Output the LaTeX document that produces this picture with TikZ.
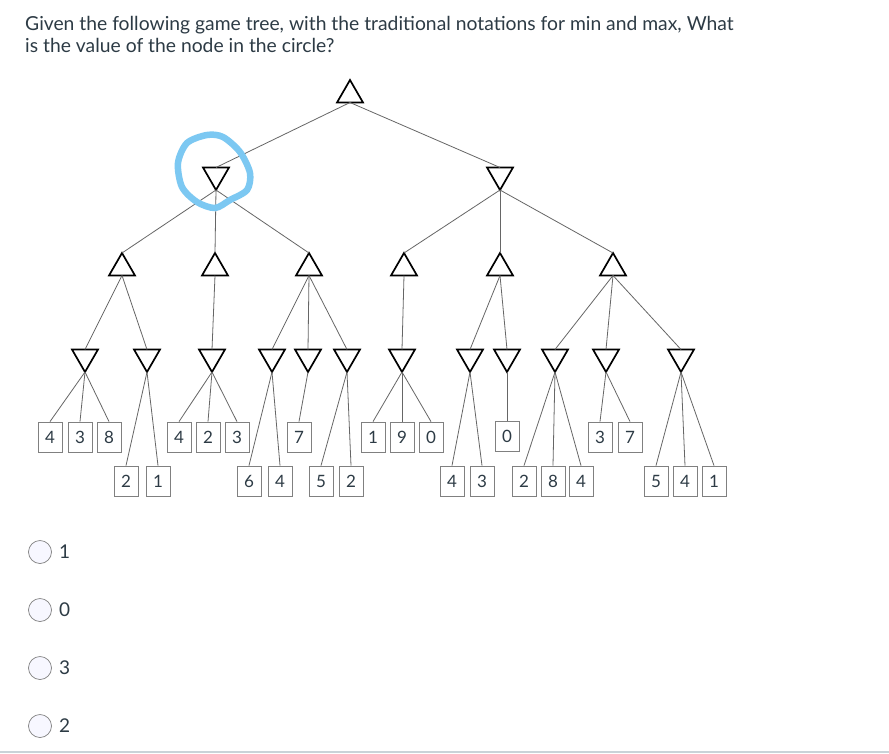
\documentclass[tikz,border=0pt]{standalone}
\usepackage{fontspec}
\setmainfont{Lato}
\usetikzlibrary{shapes.geometric, positioning}

\definecolor{qtext}{HTML}{2D3B45}
\definecolor{ring}{HTML}{7CC8F2}
\definecolor{rule}{HTML}{C9D3D8}

\begin{document}
\begin{tikzpicture}[x=1pt, y=-1pt,
    maxnode/.style={regular polygon, regular polygon sides=3, draw=black, line width=1.7pt, minimum size=30pt, inner sep=0pt, outer sep=0pt},
    minnode/.style={maxnode, shape border rotate=180},
    leaf/.style={draw=black!50, line width=0.8pt, minimum width=24pt, minimum height=30pt, inner sep=0pt, text=qtext, font=\fontsize{17}{17}\selectfont},
    branch/.style={draw=black!60, line width=0.8pt},
    radio/.style={circle, draw=black!50, fill=blue!3, line width=0.7pt, minimum size=23pt, inner sep=0pt},
    answer/.style={text=qtext, font=\fontsize{19}{19}\selectfont, inner sep=0pt}]
    \fill[white] (0,0) rectangle (889,753);
    \useasboundingbox (0,0) rectangle (889,753);

    % question
    \node[anchor=north west, align=left, text=qtext, inner sep=0pt, font=\fontsize{19.3}{22.5}\selectfont] (question) at (25,16)
      {Given the following game tree, with the traditional notations for min and max, What\\
       is the value of the node in the circle?};

    % max / min levels
    \node[maxnode] (root) at (350,95) {};
    \node[minnode] (n1) at (216,175) {};
    \node[minnode] (n2) at (500,175) {};

    \node[maxnode] (n11) at (122,268) {};
    \node[maxnode] (n12) at (215,268) {};
    \node[maxnode] (n13) at (309,268) {};
    \node[maxnode] (n21) at (404,268) {};
    \node[maxnode] (n22) at (500,268) {};
    \node[maxnode] (n23) at (613,268) {};

    \node[minnode] (m1) at (85,357) {};
    \node[minnode] (m2) at (147,357) {};
    \node[minnode] (m3) at (212,357) {};
    \node[minnode] (m4) at (272,357) {};
    \node[minnode] (m5) at (308,357) {};
    \node[minnode] (m6) at (347,357) {};
    \node[minnode] (m7) at (402,357) {};
    \node[minnode] (m8) at (470,357) {};
    \node[minnode] (m9) at (507,357) {};
    \node[minnode] (m10) at (555,357) {};
    \node[minnode] (m11) at (606,357) {};
    \node[minnode] (m12) at (681,357) {};

    % leaves, upper row
    \node[leaf] (l1) at (50,437) {4};
    \node[leaf] (l2) at (80,437) {3};
    \node[leaf] (l3) at (109,437) {8};
    \node[leaf] (l6) at (179,437) {4};
    \node[leaf] (l7) at (208,437) {2};
    \node[leaf] (l8) at (237,437) {3};
    \node[leaf] (l11) at (299,437) {7};
    \node[leaf] (l14) at (373,437) {1};
    \node[leaf] (l15) at (402,437) {9};
    \node[leaf] (l16) at (431,437) {0};
    \node[leaf] (l19) at (507,436) {0};
    \node[leaf] (l23) at (600,437) {3};
    \node[leaf] (l24) at (630,437) {7};

    % leaves, lower row
    \node[leaf] (l4) at (126,481) {2};
    \node[leaf] (l5) at (158,481) {1};
    \node[leaf] (l9) at (249,481) {6};
    \node[leaf] (l10) at (280,481) {4};
    \node[leaf] (l12) at (321,481) {5};
    \node[leaf] (l13) at (351,481) {2};
    \node[leaf] (l17) at (452,481) {4};
    \node[leaf] (l18) at (482,481) {3};
    \node[leaf] (l20) at (524,481) {2};
    \node[leaf] (l21) at (553,481) {8};
    \node[leaf] (l22) at (581,481) {4};
    \node[leaf] (l25) at (656,481) {5};
    \node[leaf] (l26) at (685,481) {4};
    \node[leaf] (l27) at (714,481) {1};

    % branches
    \draw[branch] (root.south) -- (n1.north);
    \draw[branch] (root.south) -- (n2.north);
    \draw[branch] (n1.south) -- (n11.north);
    \draw[branch] (n1.south) -- (n12.north);
    \draw[branch] (n1.south) -- (n13.north);
    \draw[branch] (n2.south) -- (n21.north);
    \draw[branch] (n2.south) -- (n22.north);
    \draw[branch] (n2.south) -- (n23.north);

    \draw[branch] (n11.south) -- (m1.north);
    \draw[branch] (n11.south) -- (m2.north);
    \draw[branch] (n12.south) -- (m3.north);
    \draw[branch] (n13.south) -- (m4.north);
    \draw[branch] (n13.south) -- (m5.north);
    \draw[branch] (n13.south) -- (m6.north);
    \draw[branch] (n21.south) -- (m7.north);
    \draw[branch] (n22.south) -- (m8.north);
    \draw[branch] (n22.south) -- (m9.north);
    \draw[branch] (n23.south) -- (m10.north);
    \draw[branch] (n23.south) -- (m11.north);
    \draw[branch] (n23.south) -- (m12.north);

    \draw[branch] (m1.south) -- (l1.north);
    \draw[branch] (m1.south) -- (l2.north);
    \draw[branch] (m1.south) -- (l3.north);
    \draw[branch] (m2.south) -- (l4.north);
    \draw[branch] (m2.south) -- (l5.north);
    \draw[branch] (m3.south) -- (l6.north);
    \draw[branch] (m3.south) -- (l7.north);
    \draw[branch] (m3.south) -- (l8.north);
    \draw[branch] (m4.south) -- (l9.north);
    \draw[branch] (m4.south) -- (l10.north);
    \draw[branch] (m5.south) -- (l11.north);
    \draw[branch] (m6.south) -- (l12.north);
    \draw[branch] (m6.south) -- (l13.north);
    \draw[branch] (m7.south) -- (l14.north);
    \draw[branch] (m7.south) -- (l15.north);
    \draw[branch] (m7.south) -- (l16.north);
    \draw[branch] (m8.south) -- (l17.north);
    \draw[branch] (m8.south) -- (l18.north);
    \draw[branch] (m9.south) -- (l19.north);
    \draw[branch] (m10.south) -- (l20.north);
    \draw[branch] (m10.south) -- (l21.north);
    \draw[branch] (m10.south) -- (l22.north);
    \draw[branch] (m11.south) -- (l23.north);
    \draw[branch] (m11.south) -- (l24.north);
    \draw[branch] (m12.south) -- (l25.north);
    \draw[branch] (m12.south) -- (l26.north);
    \draw[branch] (m12.south) -- (l27.north);

    % hand-drawn ring round the asked node
    \draw[ring, line width=6.5pt] plot[smooth cycle] coordinates {(207,135) (223,137) (240,152) (250,173) (247,190) (230,200) (215,208) (197,202) (182,187) (178,163) (187,143)};

    % answer choices
    \node[radio] (c1) at (40,552) {};
    \node[radio] (c2) at (40,610) {};
    \node[radio] (c3) at (40,668) {};
    \node[radio] (c4) at (40,726) {};
    \node[answer, right=7pt of c1] (a1) {1};
    \node[answer, right=7pt of c2] (a2) {0};
    \node[answer, right=7pt of c3] (a3) {3};
    \node[answer, right=7pt of c4] (a4) {2};

    \draw[rule, line width=1.5pt] (0,752) -- (889,752);
\end{tikzpicture}
\end{document}
